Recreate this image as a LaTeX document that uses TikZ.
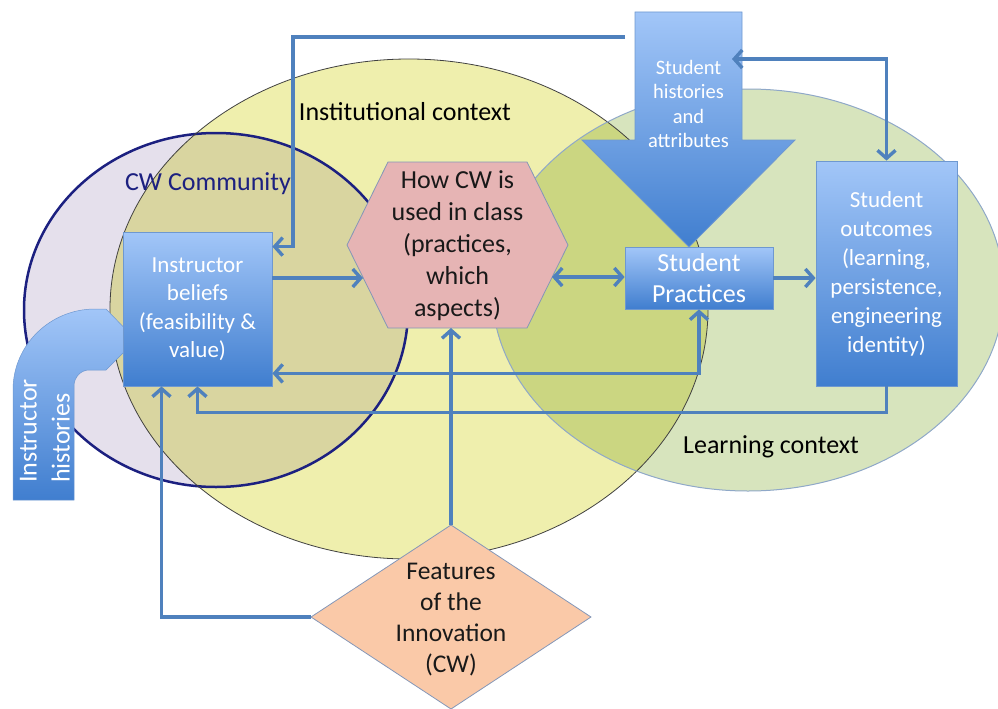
\documentclass[tikz,border=0pt]{standalone}
\usepackage{fontspec}
\setmainfont{Carlito}
\usetikzlibrary{arrows.meta,calc,positioning}

\definecolor{cwpurple}{HTML}{E5E0EC}
\definecolor{cwnavy}{HTML}{1C2080}
\definecolor{cwolive}{HTML}{D9D5A0}
\definecolor{instyellow}{HTML}{EFEFAD}
\definecolor{learngreen}{HTML}{D7E4BD}
\definecolor{learnolive}{HTML}{CBD681}
\definecolor{learnedge}{HTML}{8FA8C8}
\definecolor{boxlight}{HTML}{A2C6F8}
\definecolor{boxdark}{HTML}{407ECF}
\definecolor{boxedge}{HTML}{6E98D0}
\definecolor{linkblue}{HTML}{4F81BD}
\definecolor{hexpink}{HTML}{E6B4B4}
\definecolor{featpeach}{HTML}{FAC9A8}
\definecolor{shapeedge}{HTML}{8497B8}

\begin{document}
\begin{tikzpicture}[x=1pt, y=-1pt,
        bluebox/.style  = {draw=boxedge, line width=0.8pt, top color=boxlight, bottom color=boxdark, text=white, align=center, inner sep=0pt},
        ctxlabel/.style = {font=\fontsize{26}{31}\selectfont},
        link/.style     = {draw=linkblue, line width=3.4pt},
        >={Straight Barb[length=8pt,width=18pt]}]

        \useasboundingbox (0,0) rectangle (998,709);

        % the three contexts, overlaps coloured by hand
        \coordinate (cwc) at (216,310);
        \coordinate (instc) at (409,309);
        \coordinate (learnc) at (748,290);
        \fill[cwpurple] (cwc) ellipse [x radius=192pt, y radius=177pt];
        \fill[instyellow] (instc) ellipse [x radius=299pt, y radius=250pt];
        \begin{scope}
            \clip (instc) ellipse [x radius=299pt, y radius=250pt];
            \fill[cwolive] (cwc) ellipse [x radius=192pt, y radius=177pt];
        \end{scope}
        \fill[learngreen] (learnc) ellipse [x radius=256pt, y radius=201pt];
        \begin{scope}
            \clip (learnc) ellipse [x radius=256pt, y radius=201pt];
            \fill[learnolive] (instc) ellipse [x radius=299pt, y radius=250pt];
        \end{scope}
        \foreach \c/\rx/\ry/\col/\w in {cwc/192/177/cwnavy/2.5, instc/299/250/black!75/0.8, learnc/256/201/learnedge/1}
        \draw[draw=\col, line width=\w pt] (\c) ellipse [x radius=\rx pt, y radius=\ry pt];

        % context labels
        \node[ctxlabel, text=cwnavy] (cwlab) at (208,184) {CW Community};
        \node[ctxlabel] (instlab) at (405,112) {Institutional context};
        \node[ctxlabel] (learnlab) at (771,447) {Learning context};

        % bent arrow of the instructor histories
        \draw[draw=boxedge, line width=0.5pt, top color=boxlight, bottom color=boxdark]
            (13,500) -- (13,390) .. controls (13,345) and (50,309) .. (95,309) -- (106,309)
            -- (136,340) -- (106,370) -- (89,370) .. controls (81,370) and (74,377) .. (74,386)
            -- (74,500) -- cycle;
        \node[rotate=90, align=left, text=white, font=\fontsize{26}{33}\selectfont] (insthist) at (45,431) {Instructor\\ histories};

        % block arrow of the student histories
        \draw[draw=boxedge, line width=0.8pt, top color=boxlight, bottom color=boxdark]
            (635,12) -- (742,12) -- (742,140) -- (795,140) -- (689,247) -- (582,140) -- (635,140) -- cycle;
        \node[text=white, align=center, font=\fontsize{20.5}{24.5}\selectfont] (shist) at (688.5,104) {Student\\ histories\\ and\\ attributes};

        % hexagon of the practices in class
        \coordinate (hexc) at (457.5,245);
        \draw[draw=shapeedge, line width=0.8pt, fill=hexpink]
            ($(hexc)+(-110.5,0)$) -- ($(hexc)+(-69.5,-83)$) -- ($(hexc)+(69.5,-83)$)
            -- ($(hexc)+(110.5,0)$) -- ($(hexc)+(69.5,83)$) -- ($(hexc)+(-69.5,83)$) -- cycle;
        \node[align=center, font=\fontsize{26}{32}\selectfont, text=black!90] (howcw) at (457.5,246) {How CW is\\ used in class\\ (practices,\\ which\\ aspects)};

        % diamond of the features
        \coordinate (featc) at (451,617);
        \draw[draw=shapeedge, line width=0.8pt, fill=featpeach]
            ($(featc)+(-140,0)$) -- ($(featc)+(0,-92)$) -- ($(featc)+(140,0)$) -- ($(featc)+(0,92)$) -- cycle;
        \node[align=center, font=\fontsize{25.5}{31}\selectfont, text=black!90] (feat) at (451,620) {Features\\ of the\\ Innovation\\ (CW)};

        % the boxes
        \node[bluebox, minimum width=149pt, minimum height=154pt, font=\fontsize{23}{28.5}\selectfont] (belief) at (197.5,309) {Instructor\\ beliefs\\ (feasibility \&\\ value)};
        \node[bluebox, minimum width=148pt, minimum height=62pt, font=\fontsize{26}{31}\selectfont] (spract) at (699,278) {Student\\ Practices};
        \node[bluebox, minimum width=141pt, minimum height=225pt, font=\fontsize{23}{29}\selectfont] (sout) at (886.5,273.5) {Student\\ outcomes\\ (learning,\\ persistence,\\ engineering\\ identity)};

        % free ends on the drawn shapes
        \coordinate (histW) at (625,37);
        \coordinate (histE) at (732,59);
        \coordinate (howW) at (363,278);
        \coordinate (howE) at (552,277);
        \coordinate (howS) at (451,328);
        \coordinate (featN) at (451,525);
        \coordinate (featW) at (311,617);

        % connectors
        \draw[link,->] (histW) -- (293,37) |- ([yshift=-15pt]belief.north east);
        \draw[link,<->] (histE) -| (sout.north);
        \draw[link,->] (belief.east |- howW) -- (howW);
        \draw[link,<->] (howE) -- (spract.west |- howE);
        \draw[link,->] (spract.east) -- (sout.west |- spract.east);
        \draw[link,<->] (spract.south) |- ([yshift=13pt]belief.south east);
        \draw[link,->] (sout.south) -- ++(0,26) -| (belief.south);
        \draw[link,->] (featW) -| ([xshift=-36pt]belief.south);
        \draw[link,->] (featN) -- (howS);

    \end{tikzpicture}
\end{document}
